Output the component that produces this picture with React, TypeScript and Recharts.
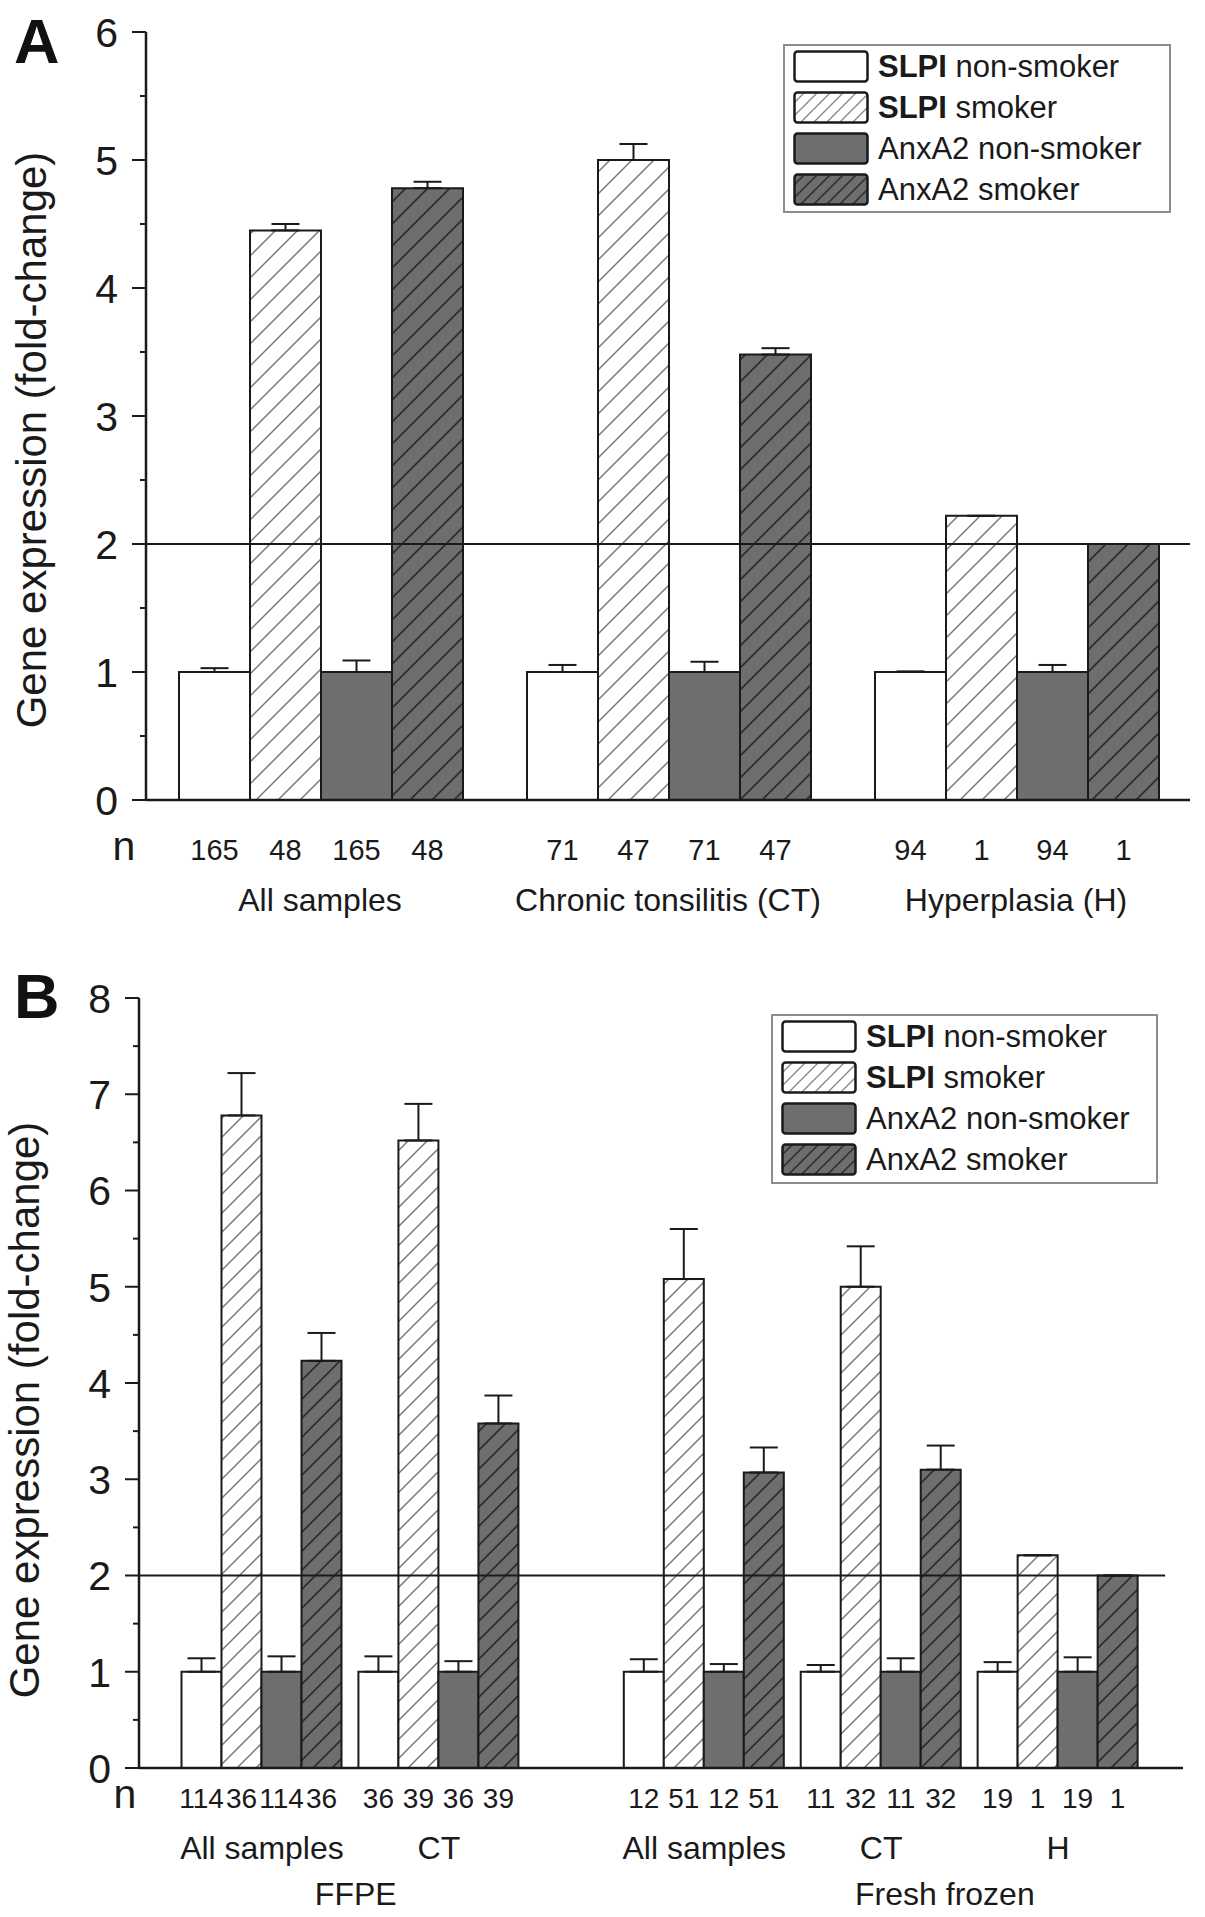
import React from "react";
import {
  BarChart,
  Bar,
  XAxis,
  YAxis,
  ErrorBar,
  ReferenceLine,
  Legend,
  LabelList,
} from "recharts";

// ---- panel A ----
const groupsA = ["All samples", "Chronic tonsilitis (CT)", "Hyperplasia (H)"];
const slpiNonA = [1.0, 1.0, 1.0];
const slpiSmkA = [4.45, 5.0, 2.22];
const anxNonA = [1.0, 1.0, 1.0];
const anxSmkA = [4.78, 3.48, 2.0];
const slpiNonErrA = [0.03, 0.055, 0.005];
const slpiSmkErrA = [0.05, 0.125, 0];
const anxNonErrA = [0.09, 0.08, 0.055];
const anxSmkErrA = [0.05, 0.05, 0];
const nNonA = [165, 71, 94];
const nSmkA = [48, 47, 1];
const yTicksA = [0, 0.5, 1, 1.5, 2, 2.5, 3, 3.5, 4, 4.5, 5, 5.5, 6];

// ---- panel B ----
const groupsB = ["All samples", "CT", "All samples", "CT", "H"];
const slotB = [1, 2, 3.5, 4.5, 5.5];
const slpiNonB = [1.0, 1.0, 1.0, 1.0, 1.0];
const slpiSmkB = [6.78, 6.52, 5.08, 5.0, 2.21];
const anxNonB = [1.0, 1.0, 1.0, 1.0, 1.0];
const anxSmkB = [4.23, 3.58, 3.07, 3.1, 2.0];
const slpiNonErrB = [0.14, 0.16, 0.13, 0.07, 0.1];
const slpiSmkErrB = [0.44, 0.38, 0.52, 0.42, 0];
const anxNonErrB = [0.16, 0.11, 0.08, 0.14, 0.15];
const anxSmkErrB = [0.29, 0.29, 0.26, 0.25, 0];
const nNonB = [114, 36, 12, 11, 19];
const nSmkB = [36, 39, 51, 32, 1];
const outerLabelsB = ["FFPE", "Fresh frozen"];
const outerSlotB = [1.53, 4.86];
const domainB = [0.305, 6.206];
const refEndB = 6.105;
const yTicksB = [0, 0.5, 1, 1.5, 2, 2.5, 3, 3.5, 4, 4.5, 5, 5.5, 6, 6.5, 7, 7.5, 8];

const seriesKeys = ["slpiNon", "slpiSmk", "anxNon", "anxSmk"];
const seriesNames = ["SLPI non-smoker", "SLPI smoker", "AnxA2 non-smoker", "AnxA2 smoker"];

const INK = "#1a1a1a";
const GREY = "#6e6e6e";
const FONT = "'Liberation Sans', Arial, sans-serif";

function buildRows(
  groups: string[],
  slots: number[] | null,
  vals: number[][],
  errs: number[][],
  nNon: number[],
  nSmk: number[]
) {
  return groups.map((g, i) => {
    const row: any = { group: g, slot: slots ? slots[i] : i };
    seriesKeys.forEach((k, s) => {
      row[k] = vals[s][i];
      row[k + "Err"] = [0, errs[s][i]];
      row["n_" + k] = s % 2 === 0 ? nNon[i] : nSmk[i];
    });
    return row;
  });
}

const dataA = buildRows(
  groupsA,
  null,
  [slpiNonA, slpiSmkA, anxNonA, anxSmkA],
  [slpiNonErrA, slpiSmkErrA, anxNonErrA, anxSmkErrA],
  nNonA,
  nSmkA
);
const dataB = buildRows(
  groupsB,
  slotB,
  [slpiNonB, slpiSmkB, anxNonB, anxSmkB],
  [slpiNonErrB, slpiSmkErrB, anxNonErrB, anxSmkErrB],
  nNonB,
  nSmkB
);

function Hatch({ id, size, bg, line, w }: any) {
  const h = size / 2;
  return (
    <pattern id={id} patternUnits="userSpaceOnUse" width={size} height={size}>
      <rect width={size} height={size} fill={bg} />
      <path
        d={`M0,${size} L${size},0 M${-h},${h} L${h},${-h} M${h},${size + h} L${size + h},${h}`}
        stroke={line}
        strokeWidth={w}
      />
    </pattern>
  );
}

function fillsFor(prefix: string) {
  return [
    "#ffffff",
    `url(#${prefix}-light)`,
    GREY,
    `url(#${prefix}-dark)`,
  ];
}

const makeYTick = (fontSize: number) => (props: any) => {
  const { x, y, payload } = props;
  const v = payload.value;
  const major = Math.abs(v - Math.round(v)) < 1e-6;
  return (
    <g>
      <line x1={x - (major ? 14 : 6)} x2={x} y1={y} y2={y} stroke={INK} strokeWidth={2} />
      {major && (
        <text x={x - 28} y={y + fontSize * 0.36} textAnchor="end" fontSize={fontSize} fill={INK}>
          {v}
        </text>
      )}
    </g>
  );
};

const makeNLabel = (dy: number, fontSize: number) => (props: any) => {
  const vb = props.viewBox || props;
  const x = Number(vb.x);
  const y = Number(vb.y);
  const w = Number(vb.width);
  const h = Number(vb.height);
  const bottom = Math.max(y, y + h);
  return (
    <text x={x + w / 2} y={bottom + dy} textAnchor="middle" fontSize={fontSize} fill={INK}>
      {props.value}
    </text>
  );
};

const makeYLabel = (dy: number) => (props: any) => {
  const vb = props.viewBox;
  const cx = vb.x;
  const cy = vb.y + vb.height / 2 + dy;
  return (
    <text
      x={cx}
      y={cy}
      transform={`rotate(-90 ${cx} ${cy})`}
      textAnchor="middle"
      fontSize={42}
      fill={INK}
    >
      Gene expression (fold-change)
    </text>
  );
};

const makeNAxisLabel = (dx: number, dy: number) => (props: any) => {
  const vb = props.viewBox;
  return (
    <text x={vb.x + dx} y={vb.y + dy} textAnchor="middle" fontSize={41} fill={INK}>
      n
    </text>
  );
};

const CatTickA = (props: any) => {
  const { x, y, payload } = props;
  return (
    <text x={x} y={y + 111} textAnchor="middle" fontSize={32} fill={INK}>
      {payload.value}
    </text>
  );
};

const CatTickB = (props: any) => {
  const { x, y, payload } = props;
  const v = payload.value;
  const gi = slotB.indexOf(v);
  if (gi >= 0) {
    return (
      <text x={x} y={y + 91} textAnchor="middle" fontSize={32} fill={INK}>
        {groupsB[gi]}
      </text>
    );
  }
  const oi = outerSlotB.indexOf(v);
  return (
    <text x={x} y={y + 137} textAnchor="middle" fontSize={32} fill={INK}>
      {oi >= 0 ? outerLabelsB[oi] : ""}
    </text>
  );
};

function Swatch({ idx, prefix }: { idx: number; prefix: string }) {
  const fills = ["#ffffff", `url(#${prefix}-sl)`, GREY, `url(#${prefix}-sd)`];
  return (
    <svg width={76} height={33} style={{ display: "block", flex: "none" }}>
      <defs>
        <Hatch id={`${prefix}-sl`} size={13} bg="#ffffff" line="#8a8a8a" w={1.4} />
        <Hatch id={`${prefix}-sd`} size={13} bg={GREY} line="#333333" w={1.6} />
      </defs>
      <rect x={1.5} y={1.5} width={73} height={30} rx={3} fill={fills[idx]} stroke={INK} strokeWidth={2.5} />
    </svg>
  );
}

const makeLegend = (prefix: string, w: number, h: number) => (props: any) => {
  // keep the series order of the bars, not the alphabetical order of the payload
  const payload = [...(props.payload || [])].sort(
    (a: any, b: any) => seriesKeys.indexOf(a.dataKey) - seriesKeys.indexOf(b.dataKey)
  );
  return (
    <div
      style={{
        width: w,
        height: h,
        boxSizing: "border-box",
        border: "2px solid #8c8c8c",
        background: "#fff",
        paddingLeft: 8,
        fontFamily: FONT,
      }}
    >
      {payload.map((item: any, i: number) => {
        const idx = Math.max(0, seriesKeys.indexOf(item.dataKey));
        const name = String(item.value ?? seriesNames[idx]);
        const sp = name.indexOf(" ");
        const first = name.slice(0, sp);
        const rest = name.slice(sp);
        return (
          <div key={i} style={{ display: "flex", alignItems: "center", height: 41 }}>
            <Swatch idx={idx} prefix={`${prefix}-${idx}`} />
            <span style={{ marginLeft: 9, fontSize: 31, color: INK, whiteSpace: "nowrap" }}>
              <span style={{ fontWeight: first === "SLPI" ? 700 : 400 }}>{first}</span>
              {rest}
            </span>
          </div>
        );
      })}
    </div>
  );
};

function renderBars(prefix: string, nDy: number, nFont: number) {
  const fills = fillsFor(prefix);
  return seriesKeys.map((k, s) => (
    <Bar
      key={k}
      dataKey={k}
      name={seriesNames[s]}
      fill={fills[s]}
      stroke={INK}
      strokeWidth={2}
      isAnimationActive={false}
    >
      <ErrorBar dataKey={k + "Err"} width={14} strokeWidth={2} stroke={INK} direction="y" />
      <LabelList dataKey={"n_" + k} content={makeNLabel(nDy, nFont)} />
    </Bar>
  ));
}

function PanelLetter({ letter, top }: { letter: string; top: number }) {
  return (
    <svg width={90} height={90} style={{ position: "absolute", left: 0, top }}>
      <text x={14} y={63} fontSize={63} fontWeight={700} fill="#111">
        {letter}
      </text>
    </svg>
  );
}

export default function App() {
  return (
    <div
      style={{
        position: "absolute",
        left: 0,
        top: 0,
        width: 1205,
        height: 1917,
        background: "#fff",
        fontFamily: FONT,
      }}
    >
      <div style={{ position: "absolute", left: 0, top: 0 }}>
        <BarChart
          width={1205}
          height={960}
          data={dataA}
          margin={{ top: 32, right: 15, left: 46, bottom: 20 }}
          barCategoryGap={33}
          barGap={0}
        >
          <defs>
            <Hatch id="pa-light" size={22} bg="#ffffff" line="#7a7a7a" w={1.5} />
            <Hatch id="pa-dark" size={22} bg={GREY} line="#2e2e2e" w={1.8} />
          </defs>
          <YAxis
            type="number"
            domain={[0, 6]}
            ticks={yTicksA}
            interval={0}
            width={100}
            tickSize={0}
            tickMargin={0}
            tickLine={false}
            tick={makeYTick(41)}
            axisLine={{ stroke: INK, strokeWidth: 2.5 }}
            label={makeYLabel(24)}
          />
          <XAxis
            dataKey="group"
            type="category"
            height={140}
            interval={0}
            tickSize={0}
            tickMargin={0}
            tickLine={false}
            tick={CatTickA}
            axisLine={{ stroke: INK, strokeWidth: 2.5 }}
            label={makeNAxisLabel(-22, 60)}
          />
          {renderBars("pa", 60, 29)}
          <ReferenceLine y={2} stroke={INK} strokeWidth={2} />
          <Legend
            layout="horizontal"
            verticalAlign="middle"
            align="center"
            wrapperStyle={{ left: 783, top: 44, width: 388, height: 169 }}
            content={makeLegend("la", 388, 169)}
          />
        </BarChart>
      </div>
      <PanelLetter letter="A" top={0} />

      <div style={{ position: "absolute", left: 0, top: 960 }}>
        <BarChart
          width={1205}
          height={957}
          data={dataB}
          margin={{ top: 38, right: 22, left: 39, bottom: 9 }}
          barCategoryGap={8}
          barGap={0}
        >
          <defs>
            <Hatch id="pb-light" size={19} bg="#ffffff" line="#7a7a7a" w={1.5} />
            <Hatch id="pb-dark" size={19} bg={GREY} line="#2e2e2e" w={1.8} />
          </defs>
          <YAxis
            type="number"
            domain={[0, 8]}
            ticks={yTicksB}
            interval={0}
            width={100}
            tickSize={0}
            tickMargin={0}
            tickLine={false}
            tick={makeYTick(41)}
            axisLine={{ stroke: INK, strokeWidth: 2.5 }}
            label={makeYLabel(27)}
          />
          <XAxis
            dataKey="slot"
            type="number"
            domain={domainB}
            ticks={[...slotB, ...outerSlotB]}
            interval={0}
            height={140}
            tickSize={0}
            tickMargin={0}
            tickLine={false}
            tick={CatTickB}
            axisLine={{ stroke: INK, strokeWidth: 2.5 }}
            label={makeNAxisLabel(-14, 40)}
          />
          {seriesKeys.map((k, s) => (
            <Bar
              key={k}
              dataKey={k}
              name={seriesNames[s]}
              fill={fillsFor("pb")[s]}
              stroke={INK}
              strokeWidth={2}
              barSize={40}
              isAnimationActive={false}
            >
              <ErrorBar dataKey={k + "Err"} width={14} strokeWidth={2} stroke={INK} direction="y" />
              <LabelList dataKey={"n_" + k} content={makeNLabel(40, 28)} />
            </Bar>
          ))}
          <ReferenceLine
            segment={[
              { x: domainB[0], y: 2 },
              { x: refEndB, y: 2 },
            ]}
            stroke={INK}
            strokeWidth={2}
          />
          <Legend
            layout="horizontal"
            verticalAlign="middle"
            align="center"
            wrapperStyle={{ left: 771, top: 54, width: 387, height: 170 }}
            content={makeLegend("lb", 387, 170)}
          />
        </BarChart>
      </div>
      <PanelLetter letter="B" top={955} />
    </div>
  );
}
